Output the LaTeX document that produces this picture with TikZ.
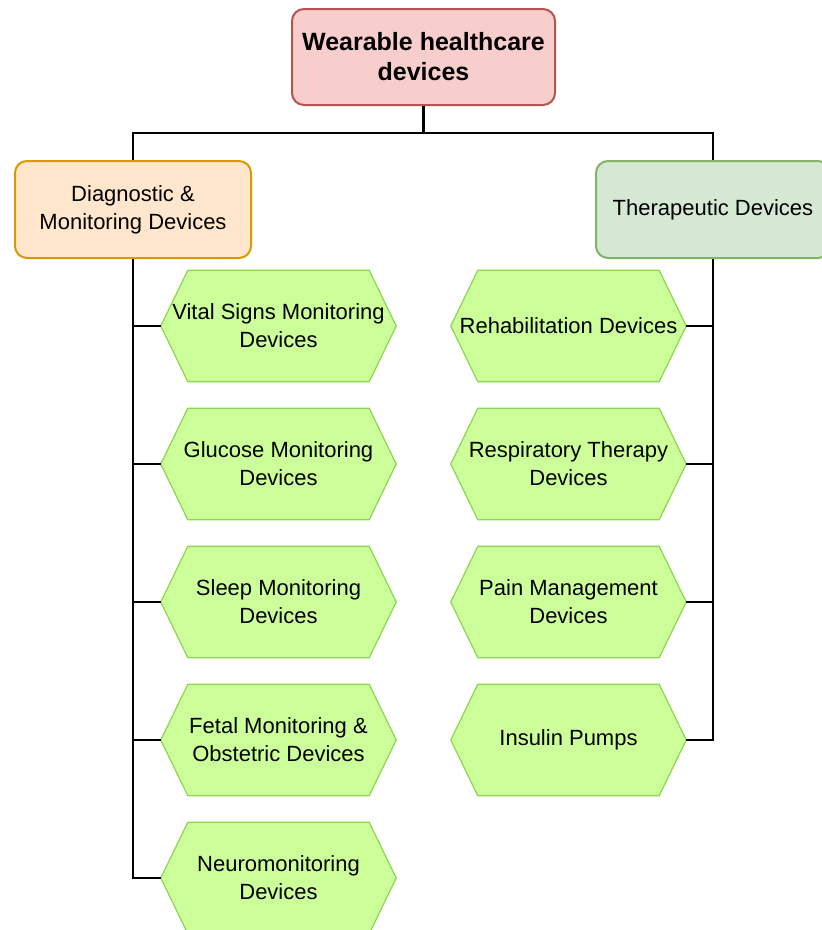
\documentclass[tikz,border=0pt]{standalone}
\usepackage{fontspec}
\setmainfont{Liberation Sans}
\usetikzlibrary{backgrounds}
\definecolor{rootfill}{HTML}{F8CECC}
\definecolor{rootline}{HTML}{B85450}
\definecolor{diagfill}{HTML}{FFE6CC}
\definecolor{diagline}{HTML}{D79B00}
\definecolor{therfill}{HTML}{D5E8D4}
\definecolor{therline}{HTML}{82B366}
\definecolor{hexfill}{HTML}{CCFF99}
\definecolor{hexline}{HTML}{8CD64E}
\tikzset{
  basebox/.style={rectangle, rounded corners=12pt, line width=2pt, inner sep=0pt, align=center,
     font=\fontsize{22}{28}\selectfont},
  rootbox/.style={basebox, draw=rootline, fill=rootfill, minimum width=263pt, minimum height=96pt,
     font=\fontsize{25}{30}\selectfont\bfseries},
  diagbox/.style={basebox, draw=diagline, fill=diagfill, minimum width=236pt, minimum height=97pt},
  therbox/.style={basebox, draw=therline, fill=therfill, minimum width=234pt, minimum height=97pt},
  hexbox/.style={rectangle, inner sep=0pt, minimum width=235pt, minimum height=111pt, align=center,
     font=\fontsize{22}{28}\selectfont},
  hexshape/.style={draw=hexline, fill=hexfill, line width=1.2pt, line join=miter},
  conn/.style={draw=black, line width=2.2pt}
}
\begin{document}
\begin{tikzpicture}[x=1pt,y=-1pt]
\useasboundingbox (0,0) rectangle (822,930);
\node[rootbox] (root) at (423.5,57) {Wearable healthcare\\devices};
\node[diagbox] (diag) at (133,209.5) {Diagnostic \&\\Monitoring Devices};
\node[therbox] (ther) at (713,209.5) {Therapeutic Devices};
\node[hexbox] (l1) at (278.5,326) {Vital Signs Monitoring\\Devices};
\node[hexbox] (l2) at (278.5,464) {Glucose Monitoring\\Devices};
\node[hexbox] (l3) at (278.5,602) {Sleep Monitoring\\Devices};
\node[hexbox] (l4) at (278.5,740) {Fetal Monitoring \&\\Obstetric Devices};
\node[hexbox] (l5) at (278.5,878) {Neuromonitoring\\Devices};
\node[hexbox] (r1) at (568.5,326) {Rehabilitation Devices};
\node[hexbox] (r2) at (568.5,464) {Respiratory Therapy\\Devices};
\node[hexbox] (r3) at (568.5,602) {Pain Management\\Devices};
\node[hexbox] (r4) at (568.5,740) {Insulin Pumps};
\begin{scope}[on background layer]
\foreach \n in {l1,l2,l3,l4,l5,r1,r2,r3,r4}
  \path[hexshape] (\n.west) -- ([xshift=27pt]\n.north west) -- ([xshift=-27pt]\n.north east)
     -- (\n.east) -- ([xshift=-27pt]\n.south east) -- ([xshift=27pt]\n.south west) -- cycle;
\end{scope}
\draw[conn] (root.south) -- ++(0,27) -| (diag.north);
\draw[conn] (root.south) -- ++(0,27) -| (ther.north);
\foreach \n in {l1,l2,l3,l4,l5} \draw[conn] (diag.south) |- (\n.west);
\foreach \n in {r1,r2,r3,r4} \draw[conn] (ther.south) |- (\n.east);
\end{tikzpicture}
\end{document}
